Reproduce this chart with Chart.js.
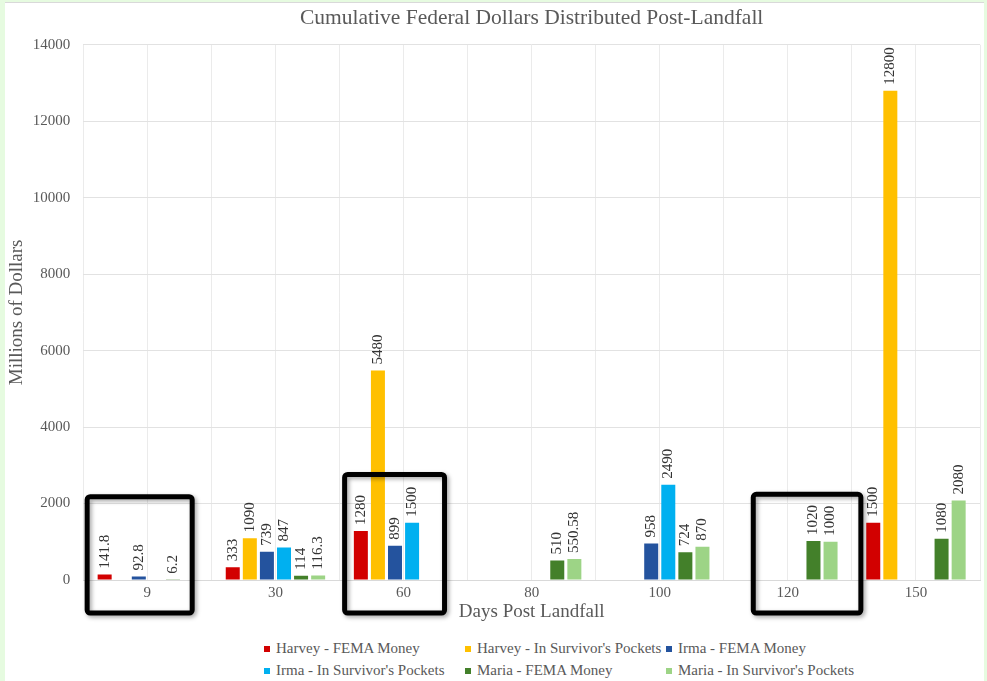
<!DOCTYPE html>
<html>
<head>
<meta charset="utf-8">
<script src="https://cdn.jsdelivr.net/npm/chart.js@4.4.1/dist/chart.umd.min.js"></script>
<style>
  body { margin: 0; background: #e6fbe0; width: 987px; height: 681px; overflow: hidden; position: relative; }
  #panel { position: absolute; left: 5px; top: 2px; width: 979px; height: 679px; background: #fff; border-top: 1px solid #d9d9d9; }
  #wrap { position: absolute; left: 0; top: 0; width: 979px; height: 632px; }
  #legend { position: absolute; left: 259px; top: 634px; display: grid; grid-template-columns: 201px 201px 220px;
            font: 15px 'Liberation Serif', serif; color: #595959; }
  #legend div { height: 22px; line-height: 22px; white-space: nowrap; }
  #legend span { display: inline-block; width: 6px; height: 6px; margin-right: 6px; vertical-align: 1px; }
</style>
</head>
<body>
<div id="panel">
  <div id="wrap"><canvas id="fundsChart"></canvas></div>
  <div id="legend"></div>
</div>
<script>
const days = ['9', '30', '60', '80', '100', '120', '150'];
const harveyFema = [141.8, 333, 1280, null, null, null, 1500];
const harveyPockets = [null, 1090, 5480, null, null, null, 12800];
const irmaFema = [92.8, 739, 899, null, 958, null, null];
const irmaPockets = [null, 847, 1500, null, 2490, null, null];
const mariaFema = [6.2, 114, null, 510, 724, 1020, 1080];
const mariaPockets = [null, 116.3, null, 550.58, 870, 1000, 2080];

// black highlight frames drawn on top of some day groups
const highlightBoxes = [
    { day: '9', from: -0.47, to: 0.35, top: 2180 },
    { day: '60', from: -0.46, to: 0.32, top: 2760 },
    { day: '120', from: -0.27, to: 0.57, top: 2240 }
];

const serif = 'Liberation Serif';
const grey = '#595959';

const valueLabels = {
    id: 'valueLabels',
    afterDatasetsDraw(chart) {
        const ctx = chart.ctx;
        ctx.save();
        ctx.font = '15px ' + serif;
        ctx.fillStyle = '#333';
        ctx.textAlign = 'left';
        ctx.textBaseline = 'middle';
        chart.data.datasets.forEach((ds, i) => {
            chart.getDatasetMeta(i).data.forEach((bar, j) => {
                const v = ds.data[j];
                if (v === null) return;
                ctx.save();
                ctx.translate(bar.x, bar.y - 6);
                ctx.rotate(-Math.PI / 2);
                ctx.fillText(String(v), 0, 0);
                ctx.restore();
            });
        });
        ctx.restore();
    }
};

const frames = {
    id: 'frames',
    afterDraw(chart) {
        const ctx = chart.ctx;
        const x = chart.scales.x;
        const y = chart.scales.y;
        const w = x.getPixelForValue(1) - x.getPixelForValue(0);
        ctx.save();
        ctx.strokeStyle = '#000';
        ctx.lineWidth = 5;
        ctx.shadowColor = 'rgba(0,0,0,0.35)';
        ctx.shadowBlur = 4;
        ctx.shadowOffsetX = 2;
        ctx.shadowOffsetY = 2;
        highlightBoxes.forEach(b => {
            const c = x.getPixelForValue(days.indexOf(b.day));
            const left = c + b.from * w;
            const right = c + b.to * w;
            const top = y.getPixelForValue(b.top);
            const bottom = y.bottom + 33;
            ctx.beginPath();
            ctx.roundRect(left, top, right - left, bottom - top, 3);
            ctx.stroke();
        });
        ctx.restore();
    }
};

const ctx = document.getElementById('fundsChart').getContext('2d');
const fundsChart = new Chart(ctx, {
    type: 'bar',
    data: {
        labels: days,
        datasets: [
            { label: 'Harvey - FEMA Money', data: harveyFema, backgroundColor: '#d20000' },
            { label: "Harvey - In Survivor's Pockets", data: harveyPockets, backgroundColor: '#ffc000' },
            { label: 'Irma - FEMA Money', data: irmaFema, backgroundColor: '#24539e' },
            { label: "Irma - In Survivor's Pockets", data: irmaPockets, backgroundColor: '#00b0f0' },
            { label: 'Maria - FEMA Money', data: mariaFema, backgroundColor: '#43802a' },
            { label: "Maria - In Survivor's Pockets", data: mariaPockets, backgroundColor: '#9dd486' }
        ]
    },
    options: {
        responsive: true,
        maintainAspectRatio: false,
        animation: false,
        categoryPercentage: 0.8,
        barPercentage: 0.82,
        layout: { padding: { left: 1, right: 4, top: 0, bottom: 13 } },
        plugins: {
            legend: { display: false },
            tooltip: { enabled: false },
            title: {
                display: true,
                fullSize: false,
                text: 'Cumulative Federal Dollars Distributed Post-Landfall',
                color: grey,
                font: { family: serif, size: 21.5, weight: 'normal' },
                padding: { top: 2, bottom: 14 }
            }
        },
        scales: {
            x: {
                offset: true,
                grid: { color: '#ebebeb', offset: true, drawTicks: false },
                border: { color: '#d9d9d9' },
                ticks: { color: grey, font: { family: serif, size: 15 }, padding: 4 },
                title: {
                    display: true,
                    text: 'Days Post Landfall',
                    color: grey,
                    font: { family: serif, size: 19, lineHeight: 1 },
                    padding: { top: -3, bottom: 0 }
                }
            },
            x2: {
                type: 'category',
                position: 'bottom',
                offset: true,
                grid: { color: '#ebebeb', offset: false, drawTicks: false },
                border: { display: false },
                ticks: { display: false }
            },
            y: {
                min: 0,
                max: 14000,
                ticks: {
                    stepSize: 2000,
                    color: grey,
                    font: { family: serif, size: 15 },
                    padding: 13,
                    callback: v => String(v)
                },
                grid: { color: '#e2e2e2', drawTicks: false },
                border: { display: false },
                title: {
                    display: true,
                    text: 'Millions of Dollars',
                    color: grey,
                    font: { family: serif, size: 19 },
                    padding: { top: 0, bottom: -9 }
                }
            }
        }
    },
    plugins: [valueLabels, frames]
});

const legendBox = document.getElementById('legend');
fundsChart.data.datasets.forEach(ds => {
    const item = document.createElement('div');
    const swatch = document.createElement('span');
    swatch.style.background = ds.backgroundColor;
    item.appendChild(swatch);
    item.appendChild(document.createTextNode(ds.label));
    legendBox.appendChild(item);
});
</script>
</body>
</html>
